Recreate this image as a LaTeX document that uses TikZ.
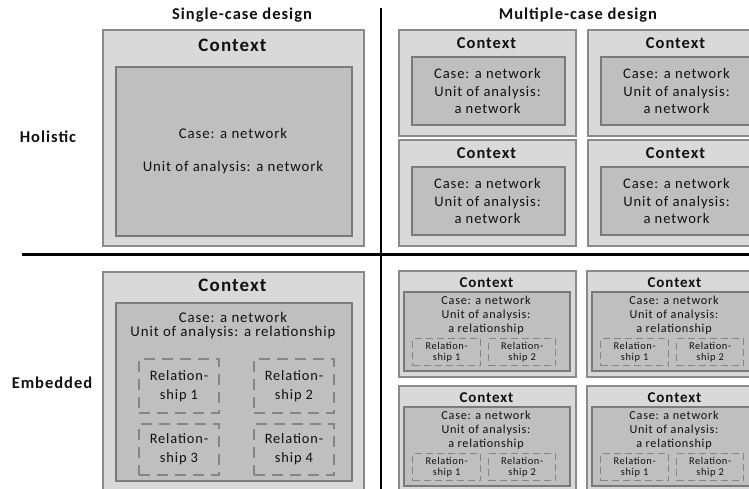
\documentclass[tikz,border=0pt]{standalone}
\usepackage{fontspec}
\setmainfont{Carlito}[LetterSpace=6]
\definecolor{outerfill}{HTML}{D9D9D9}
\definecolor{outerline}{HTML}{8A8A8A}
\definecolor{innerfill}{HTML}{BFBFBF}
\definecolor{innerline}{HTML}{7A7A7A}
\definecolor{dashline}{HTML}{858585}
\definecolor{txt}{HTML}{111111}
\tikzset{
  outerbox/.style={rectangle, draw=outerline, fill=outerfill, line width=2pt, inner sep=0pt, anchor=north west},
  innerbox/.style={rectangle, draw=innerline, fill=innerfill, line width=2pt, inner sep=0pt, anchor=north west},
  dashbox/.style={rectangle, draw=dashline, line width=2pt, dash pattern=on 11pt off 7pt, inner sep=0pt, anchor=north west},
  smalldashbox/.style={rectangle, draw=dashline, line width=1.3pt, dash pattern=on 7pt off 4pt, inner sep=0pt, anchor=north west},
  heading/.style={font=\bfseries\fontsize{16.5}{19}\selectfont, text=txt, inner sep=0pt},
  ctxA/.style={font=\bfseries\fontsize{19}{22}\selectfont, text=txt, inner sep=0pt},
  ctxB/.style={font=\bfseries\fontsize{16.5}{19}\selectfont, text=txt, inner sep=0pt},
  ctxC/.style={font=\bfseries\fontsize{15}{17}\selectfont, text=txt, inner sep=0pt},
  bodyA/.style={font=\fontsize{14.8}{17}\selectfont, text=txt, inner sep=0pt, align=center},
  bodyB/.style={font=\fontsize{14.6}{17.5}\selectfont, text=txt, inner sep=0pt, align=center},
  bodyC/.style={font=\fontsize{12.2}{14}\selectfont, text=txt, inner sep=0pt, align=center},
  relA/.style={font=\fontsize{14.4}{19}\selectfont, text=txt, inner sep=0pt, align=center},
  relC/.style={font=\fontsize{10.4}{11.5}\selectfont, text=txt, inner sep=0pt, align=center},
  divider/.style={line width=3pt, black}
}
\begin{document}
\begin{tikzpicture}[x=1pt,y=-1pt]
\useasboundingbox (0,0) rectangle (749,488);
\fill[white] (0,0) rectangle (749,488);
\clip (0,0) rectangle (749,488);

% headings
\node[heading] (tsingle) at (242,15) {Single-case design};
\node[heading] (tmulti) at (578,15) {Multiple-case design};
\node[heading] (tholistic) at (48,137) {Holistic};
\node[heading] (tembedded) at (52,383) {Embedded};

% dividers
\coordinate (hl) at (22,254);
\coordinate (hr) at (749,254);
\coordinate (vt) at (381,8);
\coordinate (vb) at (381,490);
\draw[divider] (hl) -- (hr);
\draw[line width=2.5pt] (vt) -- (vb);

% single-case holistic
\node[outerbox, minimum width=261pt, minimum height=216pt] (sh-out) at (102,29) {};
\node[ctxA] (sh-ctx) at (232.5,45) {Context};
\node[innerbox, minimum width=236pt, minimum height=169pt] (sh-in) at (115,66) {};
\node[bodyA] (sh-case) at (233,133) {Case: a network};
\node[bodyA] (sh-unit) at (233,168) {Unit of analysis: a network};

% multiple-case holistic
\foreach \n/\x/\y in {a/398/29, b/587/29, c/398/139, d/587/139}{
  \node[outerbox, minimum width=177pt, minimum height=106pt] (mh\n-out) at (\x,\y) {};
  \node[ctxB] (mh\n-ctx) at (\x+88.5,\y+14) {Context};
  \node[innerbox, minimum width=153pt, minimum height=68pt] (mh\n-in) at (\x+13,\y+27) {};
  \node[bodyB] (mh\n-txt) at (\x+89.5,\y+62) {Case: a network\\Unit of analysis:\\a network};
}

% single-case embedded
\node[outerbox, minimum width=261pt, minimum height=230pt] (se-out) at (102,271) {};
\node[ctxA] (se-ctx) at (232.5,285) {Context};
\node[innerbox, minimum width=236pt, minimum height=178pt] (se-in) at (115,302) {};
\node[bodyA] (se-case) at (233,317) {Case: a network};
\node[bodyA] (se-unit) at (233,333) {Unit of analysis: a relationship};
\node[dashbox, minimum width=80pt, minimum height=54pt] (se-r1) at (138,358) {};
\node[dashbox, minimum width=80pt, minimum height=54pt] (se-r2) at (253,358) {};
\node[dashbox, minimum width=80pt, minimum height=51pt] (se-r3) at (138,423) {};
\node[dashbox, minimum width=80pt, minimum height=51pt] (se-r4) at (253,423) {};
\node[relA] (se-t1) at (se-r1.center) {Relation-\\ship 1};
\node[relA] (se-t2) at (se-r2.center) {Relation-\\ship 2};
\node[relA] (se-t3) at (se-r3.center) {Relation-\\ship 3};
\node[relA] (se-t4) at (se-r4.center) {Relation-\\ship 4};

% multiple-case embedded
\foreach \n/\x/\y in {a/398/270, b/586/270, c/398/385, d/586/385}{
  \node[outerbox, minimum width=177pt, minimum height=106pt] (me\n-out) at (\x,\y) {};
  \node[ctxC] (me\n-ctx) at (\x+88.5,\y+13) {Context};
  \node[innerbox, minimum width=166pt, minimum height=79pt] (me\n-in) at (\x+5,\y+21) {};
  \node[bodyC] (me\n-txt) at (\x+88,\y+45) {Case: a network\\Unit of analysis:\\a relationship};
  \node[smalldashbox, minimum width=68pt, minimum height=27pt] (me\n-r1) at (\x+14,\y+68) {};
  \node[smalldashbox, minimum width=67pt, minimum height=27pt] (me\n-r2) at (\x+90,\y+68) {};
  \node[relC] (me\n-t1) at (me\n-r1.center) {Relation-\\ship 1};
  \node[relC] (me\n-t2) at (me\n-r2.center) {Relation-\\ship 2};
}
\end{tikzpicture}
\end{document}
